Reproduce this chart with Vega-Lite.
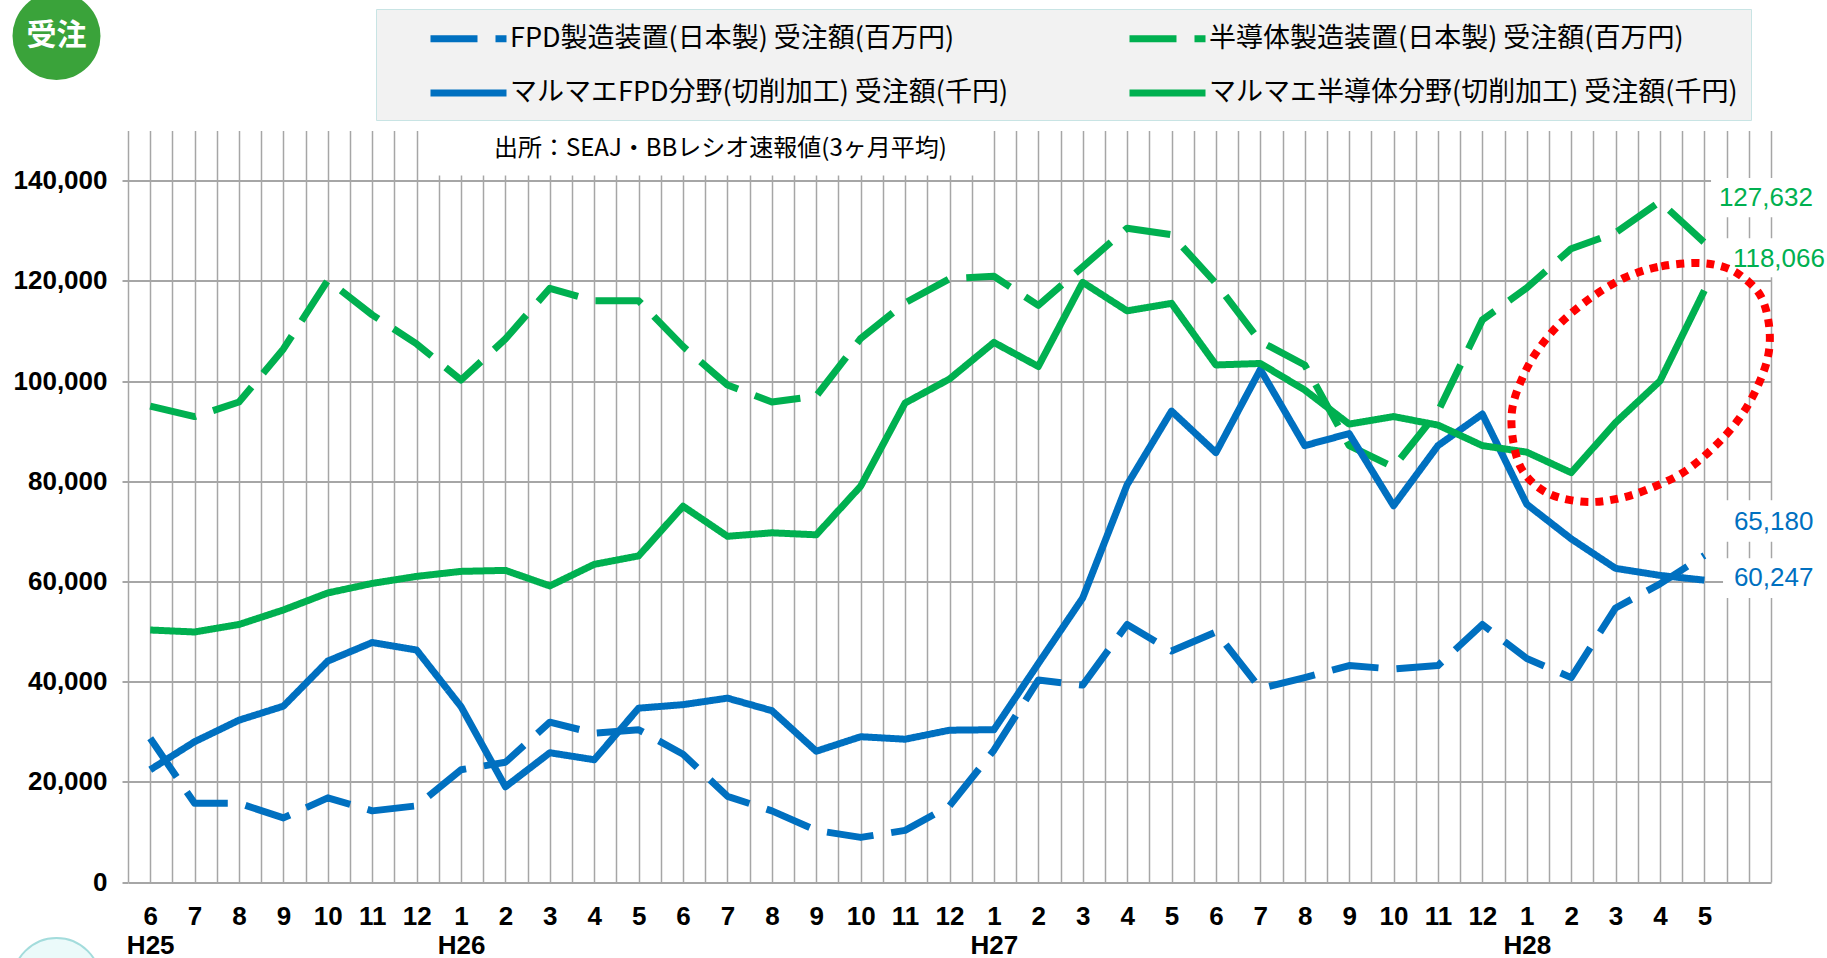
{
  "$schema": "https://vega.github.io/schema/vega-lite/v6.json",
  "width": 1643,
  "height": 751.5,
  "autosize": {"type": "none"},
  "padding": {"left": 128, "top": 130.5, "right": 56, "bottom": 76},
  "background": "white",
  "config": {
    "view": {"stroke": null},
    "axisX": {"domain": false, "ticks": false, "grid": true, "gridColor": "#a6a6a6", "gridWidth": 1.5,
      "labelFont": "Liberation Sans", "labelFontWeight": "bold", "labelFontSize": 26, "labelColor": "#000000",
      "labelPadding": 21, "labelOverlap": false, "labelFlush": false, "labelBaseline": "top", "labelLineHeight": 29, "labelBound": false, "labelAlign": "center"},
    "axisY": {"domain": false, "ticks": true, "tickSize": 6, "tickColor": "#a6a6a6", "tickWidth": 2,
      "grid": true, "gridColor": "#a6a6a6", "gridWidth": 2,
      "labelFont": "Liberation Sans", "labelFontWeight": "bold", "labelFontSize": 26, "labelColor": "#000000",
      "labelPadding": 15, "labelOverlap": false}
  },
  "datasets": {
    "series": [
      {"i":0,"s":"FPD製造装置(日本製) 受注額(百万円)","v":28700},{"i":1,"s":"FPD製造装置(日本製) 受注額(百万円)","v":15700},{"i":2,"s":"FPD製造装置(日本製) 受注額(百万円)","v":15700},{"i":3,"s":"FPD製造装置(日本製) 受注額(百万円)","v":12800},{"i":4,"s":"FPD製造装置(日本製) 受注額(百万円)","v":16800},{"i":5,"s":"FPD製造装置(日本製) 受注額(百万円)","v":14200},{"i":6,"s":"FPD製造装置(日本製) 受注額(百万円)","v":15200},{"i":7,"s":"FPD製造装置(日本製) 受注額(百万円)","v":22400},{"i":8,"s":"FPD製造装置(日本製) 受注額(百万円)","v":23900},{"i":9,"s":"FPD製造装置(日本製) 受注額(百万円)","v":31900},{"i":10,"s":"FPD製造装置(日本製) 受注額(百万円)","v":29700},{"i":11,"s":"FPD製造装置(日本製) 受注額(百万円)","v":30400},{"i":12,"s":"FPD製造装置(日本製) 受注額(百万円)","v":25500},{"i":13,"s":"FPD製造装置(日本製) 受注額(百万円)","v":17100},{"i":14,"s":"FPD製造装置(日本製) 受注額(百万円)","v":14200},{"i":15,"s":"FPD製造装置(日本製) 受注額(百万円)","v":10300},{"i":16,"s":"FPD製造装置(日本製) 受注額(百万円)","v":8900},{"i":17,"s":"FPD製造装置(日本製) 受注額(百万円)","v":10300},{"i":18,"s":"FPD製造装置(日本製) 受注額(百万円)","v":15200},{"i":19,"s":"FPD製造装置(日本製) 受注額(百万円)","v":26300},{"i":20,"s":"FPD製造装置(日本製) 受注額(百万円)","v":40300},{"i":21,"s":"FPD製造装置(日本製) 受注額(百万円)","v":39300},{"i":22,"s":"FPD製造装置(日本製) 受注額(百万円)","v":51400},{"i":23,"s":"FPD製造装置(日本製) 受注額(百万円)","v":46100},{"i":24,"s":"FPD製造装置(日本製) 受注額(百万円)","v":49900},{"i":25,"s":"FPD製造装置(日本製) 受注額(百万円)","v":38600},{"i":26,"s":"FPD製造装置(日本製) 受注額(百万円)","v":40800},{"i":27,"s":"FPD製造装置(日本製) 受注額(百万円)","v":43200},{"i":28,"s":"FPD製造装置(日本製) 受注額(百万円)","v":42500},{"i":29,"s":"FPD製造装置(日本製) 受注額(百万円)","v":43200},{"i":30,"s":"FPD製造装置(日本製) 受注額(百万円)","v":51400},{"i":31,"s":"FPD製造装置(日本製) 受注額(百万円)","v":44600},{"i":32,"s":"FPD製造装置(日本製) 受注額(百万円)","v":40800},{"i":33,"s":"FPD製造装置(日本製) 受注額(百万円)","v":54700},{"i":34,"s":"FPD製造装置(日本製) 受注額(百万円)","v":59500},{"i":35,"s":"FPD製造装置(日本製) 受注額(百万円)","v":65180},
      {"i":0,"s":"半導体製造装置(日本製) 受注額(百万円)","v":95000},{"i":1,"s":"半導体製造装置(日本製) 受注額(百万円)","v":92900},{"i":2,"s":"半導体製造装置(日本製) 受注額(百万円)","v":95800},{"i":3,"s":"半導体製造装置(日本製) 受注額(百万円)","v":106400},{"i":4,"s":"半導体製造装置(日本製) 受注額(百万円)","v":120100},{"i":5,"s":"半導体製造装置(日本製) 受注額(百万円)","v":113200},{"i":6,"s":"半導体製造装置(日本製) 受注額(百万円)","v":107400},{"i":7,"s":"半導体製造装置(日本製) 受注額(百万円)","v":100200},{"i":8,"s":"半導体製造装置(日本製) 受注額(百万円)","v":108400},{"i":9,"s":"半導体製造装置(日本製) 受注額(百万円)","v":118500},{"i":10,"s":"半導体製造装置(日本製) 受注額(百万円)","v":116000},{"i":11,"s":"半導体製造装置(日本製) 受注額(百万円)","v":116000},{"i":12,"s":"半導体製造装置(日本製) 受注額(百万円)","v":106900},{"i":13,"s":"半導体製造装置(日本製) 受注額(百万円)","v":99200},{"i":14,"s":"半導体製造装置(日本製) 受注額(百万円)","v":95800},{"i":15,"s":"半導体製造装置(日本製) 受注額(百万円)","v":97000},{"i":16,"s":"半導体製造装置(日本製) 受注額(百万円)","v":108500},{"i":17,"s":"半導体製造装置(日本製) 受注額(百万円)","v":115600},{"i":18,"s":"半導体製造装置(日本製) 受注額(百万円)","v":120400},{"i":19,"s":"半導体製造装置(日本製) 受注額(百万円)","v":120900},{"i":20,"s":"半導体製造装置(日本製) 受注額(百万円)","v":115100},{"i":21,"s":"半導体製造装置(日本製) 受注額(百万円)","v":122800},{"i":22,"s":"半導体製造装置(日本製) 受注額(百万円)","v":130500},{"i":23,"s":"半導体製造装置(日本製) 受注額(百万円)","v":129200},{"i":24,"s":"半導体製造装置(日本製) 受注額(百万円)","v":119500},{"i":25,"s":"半導体製造装置(日本製) 受注額(百万円)","v":107900},{"i":26,"s":"半導体製造装置(日本製) 受注額(百万円)","v":103200},{"i":27,"s":"半導体製造装置(日本製) 受注額(百万円)","v":87100},{"i":28,"s":"半導体製造装置(日本製) 受注額(百万円)","v":82800},{"i":29,"s":"半導体製造装置(日本製) 受注額(百万円)","v":93900},{"i":30,"s":"半導体製造装置(日本製) 受注額(百万円)","v":112200},{"i":31,"s":"半導体製造装置(日本製) 受注額(百万円)","v":118600},{"i":32,"s":"半導体製造装置(日本製) 受注額(百万円)","v":126400},{"i":33,"s":"半導体製造装置(日本製) 受注額(百万円)","v":129600},{"i":34,"s":"半導体製造装置(日本製) 受注額(百万円)","v":135800},{"i":35,"s":"半導体製造装置(日本製) 受注額(百万円)","v":127632},
      {"i":0,"s":"マルマエFPD分野(切削加工) 受注額(千円)","v":22400},{"i":1,"s":"マルマエFPD分野(切削加工) 受注額(千円)","v":28000},{"i":2,"s":"マルマエFPD分野(切削加工) 受注額(千円)","v":32300},{"i":3,"s":"マルマエFPD分野(切削加工) 受注額(千円)","v":35100},{"i":4,"s":"マルマエFPD分野(切削加工) 受注額(千円)","v":44100},{"i":5,"s":"マルマエFPD分野(切削加工) 受注額(千円)","v":47800},{"i":6,"s":"マルマエFPD分野(切削加工) 受注額(千円)","v":46300},{"i":7,"s":"マルマエFPD分野(切削加工) 受注額(千円)","v":35000},{"i":8,"s":"マルマエFPD分野(切削加工) 受注額(千円)","v":19000},{"i":9,"s":"マルマエFPD分野(切削加工) 受注額(千円)","v":25800},{"i":10,"s":"マルマエFPD分野(切削加工) 受注額(千円)","v":24400},{"i":11,"s":"マルマエFPD分野(切削加工) 受注額(千円)","v":34700},{"i":12,"s":"マルマエFPD分野(切削加工) 受注額(千円)","v":35400},{"i":13,"s":"マルマエFPD分野(切削加工) 受注額(千円)","v":36700},{"i":14,"s":"マルマエFPD分野(切削加工) 受注額(千円)","v":34200},{"i":15,"s":"マルマエFPD分野(切削加工) 受注額(千円)","v":26100},{"i":16,"s":"マルマエFPD分野(切削加工) 受注額(千円)","v":29000},{"i":17,"s":"マルマエFPD分野(切削加工) 受注額(千円)","v":28500},{"i":18,"s":"マルマエFPD分野(切削加工) 受注額(千円)","v":30300},{"i":19,"s":"マルマエFPD分野(切削加工) 受注額(千円)","v":30400},{"i":20,"s":"マルマエFPD分野(切削加工) 受注額(千円)","v":43600},{"i":21,"s":"マルマエFPD分野(切削加工) 受注額(千円)","v":56700},{"i":22,"s":"マルマエFPD分野(切削加工) 受注額(千円)","v":79300},{"i":23,"s":"マルマエFPD分野(切削加工) 受注額(千円)","v":94000},{"i":24,"s":"マルマエFPD分野(切削加工) 受注額(千円)","v":85700},{"i":25,"s":"マルマエFPD分野(切削加工) 受注額(千円)","v":102300},{"i":26,"s":"マルマエFPD分野(切削加工) 受注額(千円)","v":87100},{"i":27,"s":"マルマエFPD分野(切削加工) 受注額(千円)","v":89500},{"i":28,"s":"マルマエFPD分野(切削加工) 受注額(千円)","v":75100},{"i":29,"s":"マルマエFPD分野(切削加工) 受注額(千円)","v":87100},{"i":30,"s":"マルマエFPD分野(切削加工) 受注額(千円)","v":93400},{"i":31,"s":"マルマエFPD分野(切削加工) 受注額(千円)","v":75400},{"i":32,"s":"マルマエFPD分野(切削加工) 受注額(千円)","v":68500},{"i":33,"s":"マルマエFPD分野(切削加工) 受注額(千円)","v":62600},{"i":34,"s":"マルマエFPD分野(切削加工) 受注額(千円)","v":61200},{"i":35,"s":"マルマエFPD分野(切削加工) 受注額(千円)","v":60247},
      {"i":0,"s":"マルマエ半導体分野(切削加工) 受注額(千円)","v":50300},{"i":1,"s":"マルマエ半導体分野(切削加工) 受注額(千円)","v":49900},{"i":2,"s":"マルマエ半導体分野(切削加工) 受注額(千円)","v":51400},{"i":3,"s":"マルマエ半導体分野(切削加工) 受注額(千円)","v":54300},{"i":4,"s":"マルマエ半導体分野(切削加工) 受注額(千円)","v":57700},{"i":5,"s":"マルマエ半導体分野(切削加工) 受注額(千円)","v":59600},{"i":6,"s":"マルマエ半導体分野(切削加工) 受注額(千円)","v":61000},{"i":7,"s":"マルマエ半導体分野(切削加工) 受注額(千円)","v":62000},{"i":8,"s":"マルマエ半導体分野(切削加工) 受注額(千円)","v":62200},{"i":9,"s":"マルマエ半導体分野(切削加工) 受注額(千円)","v":59100},{"i":10,"s":"マルマエ半導体分野(切削加工) 受注額(千円)","v":63400},{"i":11,"s":"マルマエ半導体分野(切削加工) 受注額(千円)","v":65100},{"i":12,"s":"マルマエ半導体分野(切削加工) 受注額(千円)","v":75000},{"i":13,"s":"マルマエ半導体分野(切削加工) 受注額(千円)","v":69000},{"i":14,"s":"マルマエ半導体分野(切削加工) 受注額(千円)","v":69700},{"i":15,"s":"マルマエ半導体分野(切削加工) 受注額(千円)","v":69300},{"i":16,"s":"マルマエ半導体分野(切削加工) 受注額(千円)","v":79000},{"i":17,"s":"マルマエ半導体分野(切削加工) 受注額(千円)","v":95600},{"i":18,"s":"マルマエ半導体分野(切削加工) 受注額(千円)","v":100400},{"i":19,"s":"マルマエ半導体分野(切削加工) 受注額(千円)","v":107700},{"i":20,"s":"マルマエ半導体分野(切削加工) 受注額(千円)","v":102900},{"i":21,"s":"マルマエ半導体分野(切削加工) 受注額(千円)","v":119700},{"i":22,"s":"マルマエ半導体分野(切削加工) 受注額(千円)","v":114000},{"i":23,"s":"マルマエ半導体分野(切削加工) 受注額(千円)","v":115500},{"i":24,"s":"マルマエ半導体分野(切削加工) 受注額(千円)","v":103200},{"i":25,"s":"マルマエ半導体分野(切削加工) 受注額(千円)","v":103500},{"i":26,"s":"マルマエ半導体分野(切削加工) 受注額(千円)","v":98200},{"i":27,"s":"マルマエ半導体分野(切削加工) 受注額(千円)","v":91400},{"i":28,"s":"マルマエ半導体分野(切削加工) 受注額(千円)","v":92900},{"i":29,"s":"マルマエ半導体分野(切削加工) 受注額(千円)","v":91200},{"i":30,"s":"マルマエ半導体分野(切削加工) 受注額(千円)","v":87100},{"i":31,"s":"マルマエ半導体分野(切削加工) 受注額(千円)","v":85800},{"i":32,"s":"マルマエ半導体分野(切削加工) 受注額(千円)","v":81700},{"i":33,"s":"マルマエ半導体分野(切削加工) 受注額(千円)","v":91700},{"i":34,"s":"マルマエ半導体分野(切削加工) 受注額(千円)","v":100000},{"i":35,"s":"マルマエ半導体分野(切削加工) 受注額(千円)","v":118066}
    ],
    "ellipse": [
      {"k":0,"ex":34.81,"ey":123550},{"k":1,"ex":33.95,"ey":122750},{"k":2,"ex":33.19,"ey":120560},{"k":3,"ex":32.44,"ey":116570},{"k":4,"ex":31.76,"ey":111580},{"k":5,"ex":31.25,"ey":106190},{"k":6,"ex":30.91,"ey":100800},{"k":7,"ex":30.68,"ey":94810},{"k":8,"ex":30.68,"ey":88820},{"k":9,"ex":30.86,"ey":82830},{"k":10,"ex":31.25,"ey":78840},{"k":11,"ex":31.76,"ey":76650},{"k":12,"ex":32.44,"ey":75850},{"k":13,"ex":33.12,"ey":76650},{"k":14,"ex":33.8,"ey":78640},{"k":15,"ex":34.54,"ey":81840},{"k":16,"ex":35.22,"ey":86830},{"k":17,"ex":35.76,"ey":92220},{"k":18,"ex":36.16,"ey":98200},{"k":19,"ex":36.43,"ey":104790},{"k":20,"ex":36.46,"ey":110780},{"k":21,"ex":36.28,"ey":116770},{"k":22,"ex":35.89,"ey":120560},{"k":23,"ex":35.44,"ey":122750}
    ],
    "labelbg": [
      {"x0": 35.15, "x1": 36.6, "y0": 132700, "y1": 140500},
      {"x0": 35.42, "x1": 36.6, "y0": 120700, "y1": 128500},
      {"x0": 35.42, "x1": 36.6, "y0": 67900, "y1": 76200},
      {"x0": 35.42, "x1": 36.6, "y0": 56700, "y1": 64600}
    ]
  },
  "layer": [
    {
      "data": {"name": "series"},
      "transform": [{"filter": {"field": "s", "equal": "FPD製造装置(日本製) 受注額(百万円)"}}],
      "mark": {"type": "line", "strokeWidth": 7, "strokeCap": "butt", "strokeJoin": "round"},
      "encoding": {
        "x": {"field": "i", "type": "quantitative", "title": null,
          "scale": {"domain": [-0.5, 36.5], "nice": false, "zero": false},
          "axis": {"title": null, "tickCount": 100,
            "values": [-0.5,0,0.5,1,1.5,2,2.5,3,3.5,4,4.5,5,5.5,6,6.5,7,7.5,8,8.5,9,9.5,10,10.5,11,11.5,12,12.5,13,13.5,14,14.5,15,15.5,16,16.5,17,17.5,18,18.5,19,19.5,20,20.5,21,21.5,22,22.5,23,23.5,24,24.5,25,25.5,26,26.5,27,27.5,28,28.5,29,29.5,30,30.5,31,31.5,32,32.5,33,33.5,34,34.5,35,35.5,36,36.5],
            "labelExpr": "(datum.value < 0 || datum.value > 35 || datum.value % 1 != 0) ? '' : (datum.value == 0 ? ['6','H25'] : (datum.value == 7 ? ['1','H26'] : (datum.value == 19 ? ['1','H27'] : (datum.value == 31 ? ['1','H28'] : '' + ((datum.value + 5) % 12 + 1)))))"}
        },
        "y": {"field": "v", "type": "quantitative", "title": null,
          "scale": {"domain": [0, 150000], "nice": false, "zero": true},
          "axis": {"title": null, "tickCount": 20, "values": [0,20000,40000,60000,80000,100000,120000,140000], "format": ",", "labelExpr": "format(datum.value, ',')"}
        },
        "color": {"field": "s", "type": "nominal",
          "scale": {"domain": ["FPD製造装置(日本製) 受注額(百万円)","半導体製造装置(日本製) 受注額(百万円)","マルマエFPD分野(切削加工) 受注額(千円)","マルマエ半導体分野(切削加工) 受注額(千円)"],
                    "range": ["#0070c0","#00b050","#0070c0","#00b050"]},
          "legend": {"orient": "none", "legendX": 248, "legendY": -121.5, "columns": 2, "direction": "horizontal",
            "title": " ", "titleOrient": "left", "titleFontSize": 1, "titlePadding": 41,
            "symbolType": "M-3,0H3", "symbolSize": 642, "symbolStrokeWidth": 7, "symbolOffset": 22, "symbolFillColor": "transparent",
            "labelFont": "Noto Sans CJK JP", "labelFontSize": 27, "labelColor": "#000000", "labelOffset": 25, "labelLimit": 1000,
            "rowPadding": 23.5, "columnPadding": 106, "padding": 13, "fillColor": "#f2f2f2", "strokeColor": "#c8e4e4"}
        },
        "strokeDash": {"field": "s", "type": "nominal",
          "scale": {"domain": ["FPD製造装置(日本製) 受注額(百万円)","半導体製造装置(日本製) 受注額(百万円)","マルマエFPD分野(切削加工) 受注額(千円)","マルマエ半導体分野(切削加工) 受注額(千円)"],
                    "range": [[47,18],[47,18],[1,0],[1,0]]},
          "legend": {"orient": "none", "legendX": 248, "legendY": -121.5, "columns": 2, "direction": "horizontal",
            "title": " ", "titleOrient": "left", "titleFontSize": 1, "titlePadding": 41,
            "symbolType": "M-3,0H3", "symbolSize": 642, "symbolStrokeWidth": 7, "symbolOffset": 22, "symbolFillColor": "transparent",
            "labelFont": "Noto Sans CJK JP", "labelFontSize": 27, "labelColor": "#000000", "labelOffset": 25, "labelLimit": 1000,
            "rowPadding": 23.5, "columnPadding": 106, "padding": 13, "fillColor": "#f2f2f2", "strokeColor": "#c8e4e4"}
        }
      }
    },
    {
      "data": {"name": "series"},
      "transform": [{"filter": {"field": "s", "equal": "半導体製造装置(日本製) 受注額(百万円)"}}],
      "mark": {"type": "line", "strokeWidth": 7, "strokeCap": "butt", "strokeJoin": "round"},
      "encoding": {"x": {"field": "i", "type": "quantitative"}, "y": {"field": "v", "type": "quantitative"}, "color": {"field": "s", "type": "nominal"}, "strokeDash": {"field": "s", "type": "nominal"}}
    },
    {
      "data": {"name": "series"},
      "transform": [{"filter": {"field": "s", "equal": "マルマエFPD分野(切削加工) 受注額(千円)"}}],
      "mark": {"type": "line", "strokeWidth": 7, "strokeCap": "butt", "strokeJoin": "round"},
      "encoding": {"x": {"field": "i", "type": "quantitative"}, "y": {"field": "v", "type": "quantitative"}, "color": {"field": "s", "type": "nominal"}, "strokeDash": {"field": "s", "type": "nominal"}}
    },
    {
      "data": {"name": "series"},
      "transform": [{"filter": {"field": "s", "equal": "マルマエ半導体分野(切削加工) 受注額(千円)"}}],
      "mark": {"type": "line", "strokeWidth": 7, "strokeCap": "butt", "strokeJoin": "round"},
      "encoding": {"x": {"field": "i", "type": "quantitative"}, "y": {"field": "v", "type": "quantitative"}, "color": {"field": "s", "type": "nominal"}, "strokeDash": {"field": "s", "type": "nominal"}}
    },
    {
      "data": {"name": "labelbg"},
      "mark": {"type": "rect", "fill": "#ffffff"},
      "encoding": {"x": {"field": "x0", "type": "quantitative"}, "x2": {"field": "x1"}, "y": {"field": "y0", "type": "quantitative"}, "y2": {"field": "y1"}}
    },
    {
      "data": {"values": [{"note": "出所：SEAJ・BBレシオ速報値(3ヶ月平均)", "x0": 6.25, "x1": 18.75, "y0": 141000, "y1": 150000}]},
      "mark": {"type": "rect", "fill": "#ffffff"},
      "encoding": {"x": {"field": "x0", "type": "quantitative"}, "x2": {"field": "x1"}, "y": {"field": "y0", "type": "quantitative"}, "y2": {"field": "y1"}}
    },
    {
      "data": {"values": [{"note": "出所：SEAJ・BBレシオ速報値(3ヶ月平均)", "tx": 12.84, "ty": 146300}]},
      "mark": {"type": "text", "font": "Noto Sans CJK JP", "fontSize": 24, "fill": "#000000", "align": "center", "baseline": "middle"},
      "encoding": {"x": {"field": "tx", "type": "quantitative"}, "y": {"field": "ty", "type": "quantitative"}, "text": {"field": "note"}}
    },
    {
      "data": {"name": "ellipse"},
      "mark": {"type": "line", "interpolate": "cardinal-closed", "stroke": "#ff0000", "strokeWidth": 8, "strokeDash": [8, 7], "strokeCap": "butt"},
      "encoding": {"x": {"field": "ex", "type": "quantitative"}, "y": {"field": "ey", "type": "quantitative"}, "order": {"field": "k"}}
    },
    {
      "data": {"name": "series"},
      "transform": [{"filter": {"and": [{"field": "i", "equal": 35}, {"field": "s", "equal": "半導体製造装置(日本製) 受注額(百万円)"}]}}],
      "mark": {"type": "text", "align": "left", "baseline": "middle", "dx": 14.5, "dy": -45, "font": "Liberation Sans", "fontSize": 26, "fill": "#00b050"},
      "encoding": {"x": {"field": "i", "type": "quantitative"}, "y": {"field": "v", "type": "quantitative"}, "text": {"field": "v", "format": ","}}
    },
    {
      "data": {"name": "series"},
      "transform": [{"filter": {"and": [{"field": "i", "equal": 35}, {"field": "s", "equal": "マルマエ半導体分野(切削加工) 受注額(千円)"}]}}],
      "mark": {"type": "text", "align": "left", "baseline": "middle", "dx": 28.5, "dy": -31.5, "font": "Liberation Sans", "fontSize": 26, "fill": "#00b050"},
      "encoding": {"x": {"field": "i", "type": "quantitative"}, "y": {"field": "v", "type": "quantitative"}, "text": {"field": "v", "format": ","}}
    },
    {
      "data": {"name": "series"},
      "transform": [{"filter": {"and": [{"field": "i", "equal": 35}, {"field": "s", "equal": "FPD製造装置(日本製) 受注額(百万円)"}]}}],
      "mark": {"type": "text", "align": "left", "baseline": "middle", "dx": 29.5, "dy": -33.5, "font": "Liberation Sans", "fontSize": 26, "fill": "#0070c0"},
      "encoding": {"x": {"field": "i", "type": "quantitative"}, "y": {"field": "v", "type": "quantitative"}, "text": {"field": "v", "format": ","}}
    },
    {
      "data": {"name": "series"},
      "transform": [{"filter": {"and": [{"field": "i", "equal": 35}, {"field": "s", "equal": "マルマエFPD分野(切削加工) 受注額(千円)"}]}}],
      "mark": {"type": "text", "align": "left", "baseline": "middle", "dx": 29.5, "dy": -2, "font": "Liberation Sans", "fontSize": 26, "fill": "#0070c0"},
      "encoding": {"x": {"field": "i", "type": "quantitative"}, "y": {"field": "v", "type": "quantitative"}, "text": {"field": "v", "format": ","}}
    },
    {
      "data": {"values": [{"badge": "受注", "bx": -2.11, "by": 168860}]},
      "mark": {"type": "point", "shape": "circle", "filled": true, "fill": "#3aa33a", "size": 7744, "opacity": 1},
      "encoding": {"x": {"field": "bx", "type": "quantitative"}, "y": {"field": "by", "type": "quantitative"}}
    },
    {
      "data": {"values": [{"bx": -2.11, "by": -19960}]},
      "mark": {"type": "point", "shape": "circle", "filled": true, "fill": "#ebfafa", "stroke": "#a3dcdc", "strokeWidth": 2, "size": 7744, "opacity": 1},
      "encoding": {"x": {"field": "bx", "type": "quantitative"}, "y": {"field": "by", "type": "quantitative"}}
    },
    {
      "data": {"values": [{"badge": "受注", "bx": -2.11, "by": 168860}]},
      "mark": {"type": "text", "font": "Noto Sans CJK JP", "fontWeight": "bold", "fontSize": 30, "fill": "#ffffff", "align": "center", "baseline": "middle"},
      "encoding": {"x": {"field": "bx", "type": "quantitative"}, "y": {"field": "by", "type": "quantitative"}, "text": {"field": "badge"}}
    }
  ]
}
